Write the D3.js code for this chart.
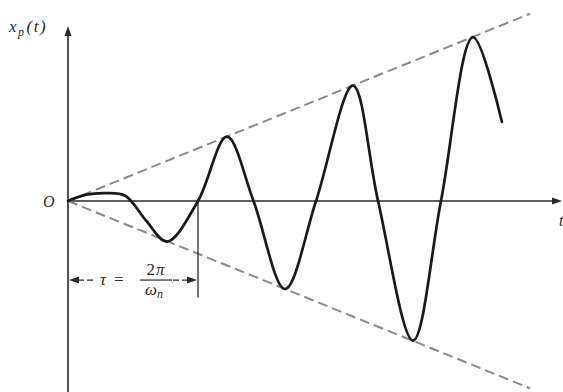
<!DOCTYPE html>
<html>
<head>
<meta charset="utf-8">
<script src="https://cdn.jsdelivr.net/npm/d3@7"></script>
<style>
  html, body { margin: 0; padding: 0; background: #fff; }
  svg { display: block; }
  text { font-family: "Liberation Serif", "DejaVu Serif", serif; fill: #2a2a2a; }
</style>
</head>
<body>
<svg id="chart" width="563" height="392"></svg>
<script>
// Time in periods tau = 2*pi/omega_n, response in units of the envelope slope.
// Points: the start-up hump, then each extremum and zero crossing.
const tValues  = [0, 0.14, 0.29, 0.44, 0.60, 0.762, 1.0, 1.222, 1.427, 1.669,
                  1.908, 2.192, 2.385, 2.654, 2.869, 3.115, 3.338];
const xpValues = [0, 0.12, 0.15, 0.10, -0.37, -0.77, 0, 1.22, 0, -1.67,
                  0, 2.19, 0, -2.65, 0, 3.11, 1.50];
// Upper and lower bounding lines x = +t and x = -t
const envelopeT = [0, 3.554];
const envelopeSigns = [1, -1];
const periodMark = 1;          // t = tau
const axisT = [0, 3.8];
const axisXp = [-3.63, 3.32];

const svg = d3.select("#chart");
const x = d3.scaleLinear().domain(axisT).range([68, 68 + 3.8 * 130]);
const y = d3.scaleLinear().domain(axisXp).range([201 + 3.63 * 52.7, 201 - 3.32 * 52.7]);

const ink = "#2a2a2a";

// Axes
svg.append("line")
  .attr("x1", x(0)).attr("x2", x(axisT[1]) - 4)
  .attr("y1", y(0)).attr("y2", y(0))
  .attr("stroke", ink).attr("stroke-width", 1.6);
svg.append("line")
  .attr("x1", x(0)).attr("x2", x(0))
  .attr("y1", y(axisXp[0])).attr("y2", y(axisXp[1]) + 6)
  .attr("stroke", ink).attr("stroke-width", 1.6);

// Arrowheads on the axes
svg.append("path")
  .attr("d", `M${x(axisT[1])},${y(0)} L${x(axisT[1]) - 10},${y(0) - 3.5} L${x(axisT[1]) - 10},${y(0) + 3.5} Z`)
  .attr("fill", ink);
svg.append("path")
  .attr("d", `M${x(0)},${y(axisXp[1])} L${x(0) - 3.5},${y(axisXp[1]) + 10} L${x(0) + 3.5},${y(axisXp[1]) + 10} Z`)
  .attr("fill", ink);

// Envelope lines
const envLine = d3.line().x(d => x(d[0])).y(d => y(d[1]));
envelopeSigns.forEach(s => {
  svg.append("path")
    .datum(envelopeT.map(t => [t, s * t]))
    .attr("d", envLine)
    .attr("fill", "none")
    .attr("stroke", "#8a8a8a")
    .attr("stroke-width", 2)
    .attr("stroke-dasharray", "10,5");
});

// Response curve
const response = d3.line()
  .x((d, i) => x(tValues[i]))
  .y(d => y(d))
  .curve(d3.curveCatmullRom.alpha(0.5));
svg.append("path")
  .datum(xpValues)
  .attr("d", response)
  .attr("fill", "none")
  .attr("stroke", "#1a1a1a")
  .attr("stroke-width", 2.7)
  .attr("stroke-linejoin", "round")
  .attr("stroke-linecap", "round");

// Period marker
const markBottom = -1.83, arrowLevel = -1.5;
svg.append("line")
  .attr("x1", x(periodMark)).attr("x2", x(periodMark))
  .attr("y1", y(0.02)).attr("y2", y(markBottom))
  .attr("stroke", ink).attr("stroke-width", 1.3);

const ay = y(arrowLevel);
const dimSegments = [[x(0) + 10, 96], [173, x(periodMark) - 10]];
dimSegments.forEach(([a, b]) => {
  svg.append("line")
    .attr("x1", a).attr("x2", b).attr("y1", ay).attr("y2", ay)
    .attr("stroke", ink).attr("stroke-width", 1.3)
    .attr("stroke-dasharray", "6,3");
});
svg.append("path")
  .attr("d", `M${x(0) + 1},${ay} L${x(0) + 11},${ay - 3.5} L${x(0) + 11},${ay + 3.5} Z`)
  .attr("fill", ink);
svg.append("path")
  .attr("d", `M${x(periodMark) - 1},${ay} L${x(periodMark) - 11},${ay - 3.5} L${x(periodMark) - 11},${ay + 3.5} Z`)
  .attr("fill", ink);

// tau = 2pi / omega_n
svg.append("text").attr("x", 100).attr("y", ay + 5)
  .attr("font-size", 17).attr("font-style", "italic").text("τ");
svg.append("text").attr("x", 114).attr("y", ay + 5)
  .attr("font-size", 17).text("=");
svg.append("line")
  .attr("x1", 140).attr("x2", 172).attr("y1", ay).attr("y2", ay)
  .attr("stroke", ink).attr("stroke-width", 1.2);
const num = svg.append("text").attr("x", 156).attr("y", ay - 5)
  .attr("font-size", 17).attr("text-anchor", "middle").attr("letter-spacing", 1);
num.append("tspan").text("2");
num.append("tspan").attr("font-style", "italic").text("π");
const den = svg.append("text").attr("x", 154).attr("y", ay + 15)
  .attr("font-size", 17).attr("text-anchor", "middle");
den.append("tspan").attr("font-style", "italic").text("ω");
den.append("tspan").attr("font-style", "italic").attr("font-size", 12).attr("dy", 3).text("n");

// Axis labels
svg.append("text").attr("x", 43).attr("y", y(0) + 6)
  .attr("font-size", 16).attr("font-style", "italic").text("O");
const yl = svg.append("text").attr("x", 9).attr("y", 32)
  .attr("font-size", 17).attr("font-style", "italic").attr("letter-spacing", 1.5);
yl.append("tspan").text("x");
yl.append("tspan").attr("font-size", 12).attr("dy", 4).text("p");
yl.append("tspan").attr("dy", -4).attr("dx", 1).text("(t)");
svg.append("text").attr("x", 559).attr("y", y(0) + 25)
  .attr("font-size", 16).attr("font-style", "italic").text("t");
</script>
</body>
</html>
